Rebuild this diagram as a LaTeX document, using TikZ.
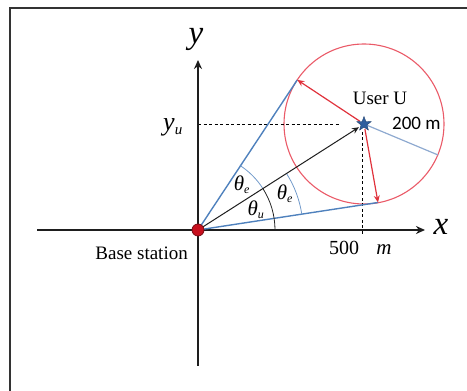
\documentclass[tikz,border=0pt]{standalone}
\usepackage{fontspec}
\setmainfont{Liberation Serif}
\newfontfamily\carlito{Carlito}
\usetikzlibrary{arrows.meta,shapes.geometric,calc}
\definecolor{axisc}{HTML}{1E1E1E}
\definecolor{tanblue}{HTML}{4F81BD}
\definecolor{radblue}{HTML}{8EA9D0}
\definecolor{circred}{HTML}{EA5A68}
\definecolor{arrred}{HTML}{E0323C}
\definecolor{starblue}{HTML}{2F5E9E}
\definecolor{dotred}{HTML}{C8101E}
\tikzset{
  frameline/.style={draw=black!80, line width=1.3pt},
  axisline/.style={draw=axisc, line width=2pt, -{Stealth[length=9pt,width=8pt]}},
  tanline/.style={draw=tanblue, line width=1.4pt},
  radline/.style={draw=radblue, line width=1.2pt},
  redarrow/.style={draw=arrred, line width=1.2pt, -{Stealth[length=7pt,width=6pt]}},
  vecarrow/.style={draw=axisc, line width=1pt, -{Stealth[length=7pt,width=6pt]}},
  guide/.style={draw=black, line width=0.9pt, dash pattern=on 3pt off 2.5pt},
  anglearc/.style={draw=black!85, line width=0.8pt},
  anglearcb/.style={draw=tanblue!80, line width=0.8pt},
  lbl/.style={inner sep=0pt, font=\fontsize{19}{22}\selectfont},
  biglbl/.style={inner sep=0pt, font=\fontsize{33}{36}\selectfont\itshape},
  thlbl/.style={inner sep=0pt, font=\fontsize{21}{24}\selectfont\itshape},
}
\begin{document}
\begin{tikzpicture}[x=1pt,y=1pt]
\useasboundingbox (0,0) rectangle (467,391);
% frame (cropped box)
\coordinate (fb) at (10,0);
\coordinate (fc) at (10,383);
\coordinate (fr) at (467,383);
\draw[frameline] (fb) -- (fc) -- (fr);
% key points
\coordinate (O) at (198,161);
\coordinate (U) at (364,267);
\coordinate (T1) at (297.3,311.1);
\coordinate (T2) at (378,188.5);
\coordinate (R) at (437.8,236.1);
\coordinate (xl) at (37,161);
\coordinate (xr) at (425,161);
\coordinate (yb) at (198,25);
\coordinate (yt) at (198,331);
\coordinate (hd) at (340,267);
\coordinate (hy) at (198,267);
\coordinate (vd) at (362,157);
\coordinate (vu) at (362,259);
% circle
\draw[draw=circred, line width=1.1pt] (U) circle[radius=80];
% guides
\draw[guide] (hy) -- (hd);
\draw[guide] (vu) -- (vd);
% axes
\draw[axisline] (xl) -- (xr);
\draw[axisline] (yb) -- (yt);
% tangent lines
\draw[tanline] (O) -- (T1);
\draw[tanline] (O) -- (T2);
% radius line
\draw[radline] (U) -- (R);
% angle arcs
\draw[anglearc] ($(O)+(77,0)$) arc[start angle=0,end angle=32.56,radius=77];
\draw[anglearcb] ($(O)+(32.56:77)$) arc[start angle=32.56,end angle=56.53,radius=77];
\draw[anglearcb] ($(O)+(8.59:105)$) arc[start angle=8.59,end angle=32.56,radius=105];
% vector
\draw[vecarrow, shorten >=6pt] (O) -- (U);
% red arrows
\draw[redarrow, shorten <=5pt] (U) -- (T1);
\draw[redarrow, shorten <=5pt] (U) -- (T2);
% star
\node[star, star points=5, star point ratio=2.4, minimum size=15pt, inner sep=0pt,
      fill=starblue, draw=starblue!70!black, line width=0.4pt] (user) at (U) {};
% base station dot
\node[circle, minimum size=12pt, inner sep=0pt, fill=dotred, draw=dotred!60!black, line width=0.8pt] (bs) at (O) {};
% labels
\node[biglbl] (ylab) at (196,352) {y};
\node[biglbl] (xlab) at (441,164) {x};
\node[lbl, anchor=base] (yu) at (173,260) {\fontsize{26}{28}\selectfont\itshape y\textsubscript{\fontsize{15}{16}\selectfont u}};
\node[lbl, anchor=base east] (bslab) at (188,131) {Base station};
\node[lbl, anchor=base] (ulab) at (380,286) {User U};
\node[lbl, anchor=base west] (dlab) at (392,261) {\carlito 200 m};
\node[lbl, anchor=base, font=\fontsize{20}{22}\selectfont] (five) at (344,136) {500};
\node[lbl, anchor=base, font=\fontsize{21}{22}\selectfont] (mlab) at (384,136) {\itshape m};
\node[thlbl] (te1) at (242,206) {θ\textsubscript{\fontsize{12}{14}\selectfont e}};
\node[thlbl] (te2) at (285,197) {θ\textsubscript{\fontsize{12}{14}\selectfont e}};
\node[thlbl] (tu) at (256,181) {θ\textsubscript{\fontsize{12}{14}\selectfont u}};
\end{tikzpicture}
\end{document}
